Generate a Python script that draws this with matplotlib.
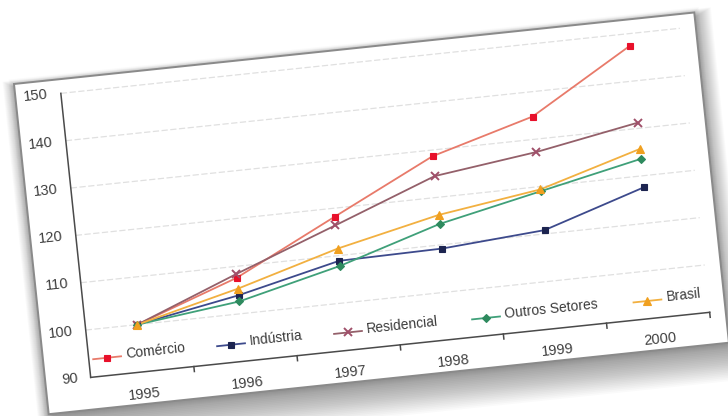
'''
Consumo de energia por setor (índice 1995 = 100)
Gráfico desenhado numa moldura levemente girada, como uma imagem colada
'''
import numpy as np
import matplotlib.pyplot as plt
from matplotlib.patches import Rectangle
from matplotlib.transforms import Affine2D

plt.rcParams['font.family'] = ['Liberation Sans', 'DejaVu Sans']

anos = ['1995', '1996', '1997', '1998', '1999', '2000']
comercio = [100, 107.6, 118.2, 128.7, 134.8, 147.4]
industria = [100, 103.9, 108.9, 109.2, 110.8, 117.6]
residencial = [100, 108.4, 116.4, 124.5, 127.3, 131.2]
outros = [100, 102.6, 107.8, 114.4, 119.0, 123.6]
brasil = [100, 105.3, 111.5, 116.3, 119.4, 125.7]
y_ticks = [90, 100, 110, 120, 130, 140, 150]

series = [
    ('Comércio', comercio, '#e87a6a', '#e8102a', 's', 5),
    ('Indústria', industria, '#3d4a8c', '#1c2450', 's', 5),
    ('Residencial', residencial, '#94606a', '#a0506a', 'x', 6),
    ('Outros Setores', outros, '#3fa079', '#2e8a5e', 'D', 4.5),
    ('Brasil', brasil, '#f2b040', '#f0a020', '^', 6),
]

fig = plt.figure(figsize=(7.28, 4.16), dpi=100)
ax = fig.add_axes([0, 0, 1, 1])
ax.set_xlim(0, 728)
ax.set_ylim(416, 0)
ax.axis('off')

# moldura: coordenadas locais (px) -> imagem, girada ~6 graus
W, H = 684, 332
rot = Affine2D().rotate_deg(-6).translate(14, 84) + ax.transData

# área do gráfico em coordenadas locais
x0, x1 = 45.6, 668.0
cat_w = (x1 - x0) / len(anos)
v150, px_unit = 14.2, 4.76
data_tr = Affine2D().scale(cat_w, -px_unit).translate(
    x0 + 0.5 * cat_w, v150 + 150 * px_unit) + rot

# sombra (suave, mais forte embaixo)
for k in range(20):
    ax.add_patch(Rectangle((4 - k * 0.8, 6 - k * 0.5), W - 6 + k * 1.8, H + k * 2.2,
                           transform=rot, facecolor='black', edgecolor='none',
                           alpha=0.02, zorder=1))
for k in range(6):
    ax.add_patch(Rectangle((-k, -k), W + 2 * k, H + 2 * k, transform=rot,
                           facecolor='black', edgecolor='none', alpha=0.02, zorder=1))
ax.add_patch(Rectangle((0, 0), W, H, transform=rot, facecolor='white',
                       edgecolor='#8a8a8a', lw=1.4, zorder=2))

pos = np.arange(len(anos))
lo, hi = -0.5, len(anos) - 0.5

# grade
for t in y_ticks[1:]:
    ax.plot([lo, hi], [t, t], transform=data_tr, color='#e0e0e0', lw=0.9,
            ls=(0, (5, 2)), zorder=3)
# eixos
ax.plot([lo, lo], [90, 150], transform=data_tr, color='#4a4a4a', lw=1.1, zorder=4)
ax.plot([lo, hi], [90, 90], transform=data_tr, color='#4a4a4a', lw=1.1, zorder=4)
tick_tr = Affine2D().scale(cat_w, 1).translate(x0 + 0.5 * cat_w, 0) + rot
v90 = v150 + 60 * px_unit
for b in np.arange(lo + 1, hi + 1):
    ax.plot([b, b], [v90, v90 + 5], transform=tick_tr, color='#4a4a4a',
            lw=1.1, zorder=4)

# rótulos
for t in y_ticks:
    ax.text(0, v150 + (150 - t) * px_unit, str(t), transform=Affine2D().translate(33, 0) + rot,
            ha='right', va='center', rotation=6, rotation_mode='anchor',
            fontsize=10.5, color='#404040', zorder=5)
for p, a in zip(pos, anos):
    ax.text(p, v90 + 22, a, transform=tick_tr, ha='center', va='center',
            rotation=6, rotation_mode='anchor', fontsize=10.5, color='#404040', zorder=5)

# séries
for nome, vals, lc, mc, mk, ms in series:
    ax.plot(pos, vals, transform=data_tr, color=lc, lw=1.3, zorder=6)
    ax.plot(pos, vals, transform=data_tr, ls='none', marker=mk, ms=ms,
            color=mc, mec=mc, mew=1.4 if mk == 'x' else 0.8, zorder=7)

# legenda dentro do gráfico
leg_v = 282
leg_x = [64, 188.6, 306.2, 445, 607.3]
for (nome, vals, lc, mc, mk, ms), mx in zip(series, leg_x):
    ax.plot([mx - 14, mx + 14], [leg_v, leg_v], transform=rot, color=lc, lw=1.3, zorder=6)
    ax.plot([mx], [leg_v], transform=rot, ls='none', marker=mk, ms=ms, color=mc,
            mec=mc, mew=1.4 if mk == 'x' else 0.8, zorder=7)
    ax.text(mx + 19, leg_v - 1.5, nome, transform=rot, ha='left', va='center',
            rotation=6, rotation_mode='anchor', fontsize=10, color='#3a3a3a', zorder=7)

fig.savefig('out.png', dpi=100, facecolor='white')
